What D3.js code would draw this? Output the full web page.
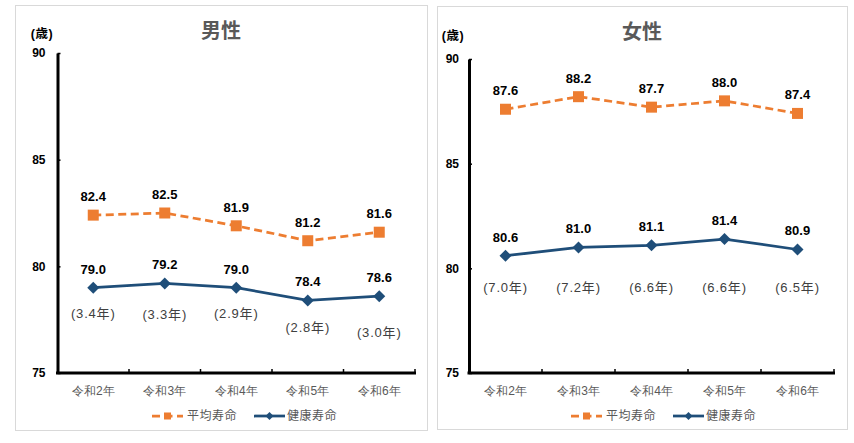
<!DOCTYPE html>
<html><head><meta charset="utf-8">
<script src="https://cdn.jsdelivr.net/npm/d3@7"></script>
<style>
html,body{margin:0;padding:0;background:#fff;}
svg{display:block;font-family:"Liberation Sans","Noto Sans CJK JP",sans-serif;}
</style></head>
<body>
<svg id="c" width="854" height="443"></svg>
<script>
// ---- data ----
const categories = ["令和2年","令和3年","令和4年","令和5年","令和6年"];
const maleAvg = [82.4, 82.5, 81.9, 81.2, 81.6];
const maleHealthy = [79.0, 79.2, 79.0, 78.4, 78.6];
const maleGap = ["(3.4年)","(3.3年)","(2.9年)","(2.8年)","(3.0年)"];
const femaleAvg = [87.6, 88.2, 87.7, 88.0, 87.4];
const femaleHealthy = [80.6, 81.0, 81.1, 81.4, 80.9];
const femaleGap = ["(7.0年)","(7.2年)","(6.6年)","(6.6年)","(6.5年)"];
const yTicks = [75, 80, 85, 90];
const seriesNames = ["平均寿命","健康寿命"];
const titles = ["男性","女性"];
const unitLabel = "(歳)";

// ---- layout ----
const ORANGE = "#ED7D31", NAVY = "#1F4E79";
const panels = [
  {title: titles[0], avg: maleAvg, healthy: maleHealthy, gap: maleGap,
   box:[15,5,412,425], x0:57.5, x1:415, yTop:53, yBot:373, tickPad:12,
   titleX:221, titleY:38, unitX:42, unitY:38, gapY:[77.8,77.75,77.8,77.15,76.92],
   legendX:152, legendY:416},
  {title: titles[1], avg: femaleAvg, healthy: femaleHealthy, gap: femaleGap,
   box:[437,6,410,423], x0:469, x1:834, yTop:59, yBot:373, tickPad:10,
   titleX:642, titleY:39, unitX:453, unitY:40, gapY:[79.1,79.1,79.1,79.1,79.1],
   legendX:571, legendY:416}
];

const svg = d3.select("#c");

panels.forEach(p => {
  const g = svg.append("g");
  g.append("rect").attr("x", p.box[0]+0.5).attr("y", p.box[1]+0.5)
    .attr("width", p.box[2]).attr("height", p.box[3])
    .attr("fill", "#fff").attr("stroke", "#D9D9D9").attr("stroke-width", 1);

  const x = d3.scaleBand().domain(categories).range([p.x0, p.x1]);
  const y = d3.scaleLinear().domain([75, 90]).range([p.yBot, p.yTop]);
  const cx = d => x(d) + x.bandwidth()/2;

  // title
  g.append("text").attr("x", p.titleX).attr("y", p.titleY)
    .attr("text-anchor","middle").attr("font-size", 20).attr("font-weight","bold")
    .attr("fill","#595959").text(p.title);
  g.append("text").attr("x", p.unitX).attr("y", p.unitY)
    .attr("text-anchor","middle").attr("font-size", 12.5).attr("font-weight","bold")
    .attr("letter-spacing", 0.5).attr("fill","#000").text(unitLabel);

  // y axis
  const ya = g.append("g").attr("transform", `translate(${p.x0},0)`)
    .call(d3.axisLeft(y).tickValues(yTicks).tickSize(-3).tickSizeOuter(0).tickPadding(p.tickPad).tickFormat(d3.format("d")));
  ya.select(".domain").attr("stroke","#000").attr("stroke-width",3);
  ya.selectAll(".tick line").attr("stroke","#000").attr("stroke-width",1.5);
  ya.selectAll(".tick text").attr("font-size",12).attr("font-weight","bold").attr("fill","#000")
    .attr("font-family",'"Liberation Sans",sans-serif');

  // x axis
  const xa = g.append("g").attr("transform", `translate(0,${p.yBot})`)
    .call(d3.axisBottom(x).tickSize(0).tickPadding(12));
  xa.select(".domain").attr("stroke","#000").attr("stroke-width",3)
    .attr("d", `M${p.x0-1.5},0H${p.x1+1}`);
  xa.selectAll(".tick text").attr("font-size",12).attr("fill","#595959").attr("dy","0.85em");
  // inside ticks at category boundaries
  g.selectAll(".xt").data(categories).enter().append("line")
    .attr("x1", d => x(d)+x.bandwidth()).attr("x2", d => x(d)+x.bandwidth())
    .attr("y1", p.yBot).attr("y2", p.yBot-4)
    .attr("stroke","#000").attr("stroke-width",1.5);

  const line = d3.line().x((d,i)=>cx(categories[i])).y(d=>y(d));

  // average line (dashed)
  g.append("path").datum(p.avg).attr("d", line).attr("fill","none")
    .attr("stroke", ORANGE).attr("stroke-width", 2.75).attr("stroke-dasharray","8,4.5");
  g.selectAll(".sq").data(p.avg).enter().append("rect")
    .attr("x",(d,i)=>cx(categories[i])-5.5).attr("y",d=>y(d)-5.5)
    .attr("width",11).attr("height",11).attr("fill",ORANGE);
  g.selectAll(".la").data(p.avg).enter().append("text")
    .attr("x",(d,i)=>cx(categories[i])).attr("y",d=>y(d)-14)
    .attr("text-anchor","middle").attr("font-size",13).attr("font-weight","bold")
    .attr("fill","#000").text(d=>d.toFixed(1));

  // healthy line
  g.append("path").datum(p.healthy).attr("d", line).attr("fill","none")
    .attr("stroke", NAVY).attr("stroke-width", 2.75);
  g.selectAll(".dm").data(p.healthy).enter().append("path")
    .attr("transform",(d,i)=>`translate(${cx(categories[i])},${y(d)})`)
    .attr("d","M0,-6L6,0L0,6L-6,0Z").attr("fill",NAVY);
  g.selectAll(".lh").data(p.healthy).enter().append("text")
    .attr("x",(d,i)=>cx(categories[i])).attr("y",d=>y(d)-14)
    .attr("text-anchor","middle").attr("font-size",13).attr("font-weight","bold")
    .attr("fill","#000").text(d=>d.toFixed(1));

  // gap labels
  g.selectAll(".lg").data(p.gap).enter().append("text")
    .attr("x",(d,i)=>cx(categories[i])).attr("y",(d,i)=>y(p.gapY[i]))
    .attr("dy","0.35em").attr("text-anchor","middle").attr("font-size",13)
    .attr("letter-spacing",0.8).attr("fill","#404040").text(d=>d);

  // legend
  const lg = g.append("g").attr("transform",`translate(${p.legendX},${p.legendY})`);
  lg.append("line").attr("x1",0).attr("x2",31).attr("stroke",ORANGE).attr("stroke-width",2.75).attr("stroke-dasharray","8,4.5");
  lg.append("rect").attr("x",12).attr("y",-3.5).attr("width",7).attr("height",7).attr("fill",ORANGE);
  lg.append("text").attr("x",35).attr("dy","0.35em").attr("font-size",12).attr("letter-spacing",0.5)
    .attr("fill","#595959").text(seriesNames[0]);
  lg.append("line").attr("x1",102).attr("x2",133).attr("stroke",NAVY).attr("stroke-width",2.75);
  lg.append("path").attr("transform","translate(117.5,0)").attr("d","M0,-4L4,0L0,4L-4,0Z").attr("fill",NAVY);
  lg.append("text").attr("x",135).attr("dy","0.35em").attr("font-size",12).attr("letter-spacing",0.5)
    .attr("fill","#595959").text(seriesNames[1]);
});
</script>
</body></html>
